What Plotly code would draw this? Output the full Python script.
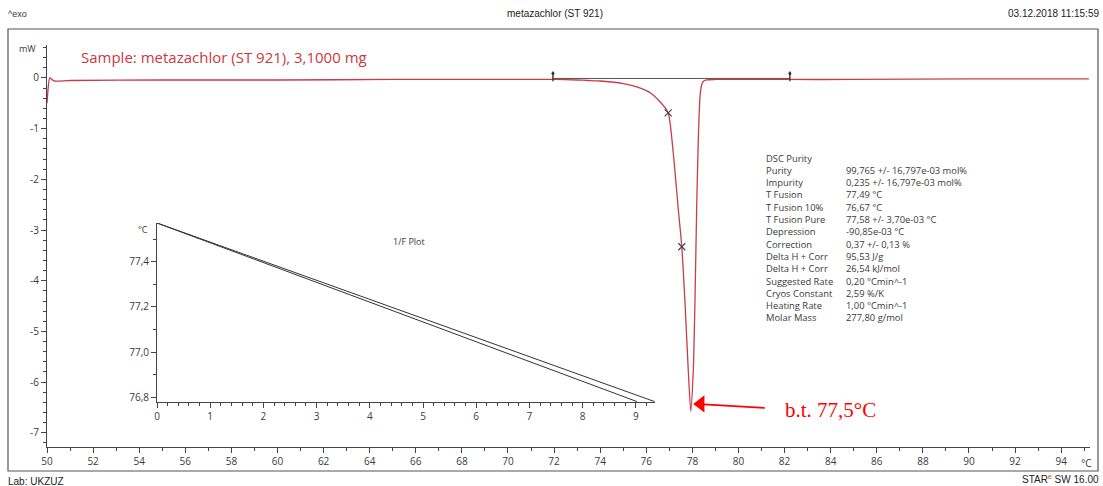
import plotly.graph_objects as go

# ---- Data ----
temp_c = [50.0, 50.05, 50.12, 50.3, 51, 55, 60, 65, 70, 72, 73, 73.5, 74, 74.5, 75, 75.4,
          75.8, 76.2, 76.6, 76.95, 77.17, 77.39, 77.54, 77.68, 77.82, 77.93, 78.04, 78.11,
          78.19, 78.26, 78.33, 78.40, 78.47, 78.62, 79, 82, 85, 90, 95.2]
heat_mw = [-0.50, -0.20, 0.00, -0.06, -0.05, -0.04, -0.04, -0.03, -0.03, -0.03, -0.04, -0.05,
           -0.06, -0.08, -0.11, -0.15, -0.21, -0.30, -0.47, -0.69, -1.48, -2.60, -3.33, -4.44,
           -5.76, -6.58, -5.76, -4.44, -2.47, -1.16, -0.37, -0.14, -0.07, -0.04, -0.03, -0.03,
           -0.03, -0.02, -0.02]
baseline_t = [71.95, 82.23]
baseline_mw = [-0.01, -0.01]
cross_t = [76.95, 77.54]
cross_mw = [-0.69, -3.33]

inv_f_fit = [0, 9.02]
temp_fit = [77.573, 76.78]
inv_f_data = [0, 2, 4, 6, 8, 9.35]
temp_data = [77.573, 77.404, 77.234, 77.065, 76.895, 76.78]

x_major = list(range(50, 96, 2))
y_major = [0, -1, -2, -3, -4, -5, -6, -7]
inset_x_major = list(range(0, 10))
inset_y_major = [76.8, 77.0, 77.2, 77.4]

purity_labels = ["DSC Purity", "Purity", "Impurity", "T Fusion", "T Fusion 10%", "T Fusion Pure",
                 "Depression", "Correction", "Delta H + Corr", "Delta H + Corr", "Suggested Rate",
                 "Cryos Constant", "Heating Rate", "Molar Mass"]
purity_values = ["", "99,765 +/- 16,797e-03 mol%", "0,235 +/- 16,797e-03 mol%", "77,49 °C",
                 "76,67 °C", "77,58 +/- 3,70e-03 °C", "-90,85e-03 °C", "0,37 +/- 0,13 %",
                 "95,53 J/g", "26,54 kJ/mol", "0,20 °Cmin^-1", "2,59 %/K", "1,00 °Cmin^-1",
                 "277,80 g/mol"]

# ---- layout helpers (pixel -> paper) ----
L, R, T, B = 47, 1090, 45, 447
def px(x):
    return (x - L) / (R - L)
def py(y):
    return (B - y) / (B - T)

FONT = "Open Sans"
TXT = "#3a3a3a"

fig = go.Figure()

fig.add_trace(go.Scatter(x=baseline_t, y=baseline_mw, mode="lines",
                         line=dict(color="#555555", width=1), hoverinfo="skip"))
fig.add_trace(go.Scatter(x=temp_c, y=heat_mw, mode="lines",
                         line=dict(color="rgb(200,60,75)", width=1.3, shape="spline", smoothing=0.6)))
fig.add_trace(go.Scatter(x=cross_t, y=cross_mw, mode="markers",
                         marker=dict(symbol="x-thin", size=7, line=dict(color="#444", width=1.2))))
fig.add_trace(go.Scatter(x=baseline_t, y=[0.03, 0.03], mode="markers",
                         marker=dict(symbol="line-ns", size=7, line=dict(color="#333", width=1.4))))
fig.add_trace(go.Scatter(x=baseline_t, y=[0.09, 0.09], mode="markers",
                         marker=dict(symbol="circle", size=3, color="#333")))

# inset 1/F plot
fig.add_trace(go.Scatter(x=inv_f_data, y=temp_data, mode="lines", xaxis="x2", yaxis="y2",
                         line=dict(color="#333", width=1)))
fig.add_trace(go.Scatter(x=inv_f_fit, y=temp_fit, mode="lines", xaxis="x2", yaxis="y2",
                         line=dict(color="#333", width=1)))

# red arrow pointing at the peak minimum
fig.add_trace(go.Scatter(x=[78.5, 81.15], y=[-6.44, -6.51], mode="lines",
                         line=dict(color="#ff0000", width=1.6), hoverinfo="skip"))
fig.add_trace(go.Scatter(x=[78.36], y=[-6.43], mode="markers",
                         marker=dict(symbol="triangle-left", size=15, color="#ff0000",
                                     line=dict(width=0)), hoverinfo="skip"))

axis_common = dict(showline=True, linecolor="#444", linewidth=1, showgrid=False, zeroline=False,
                   ticks="outside", tickcolor="#444", tickfont=dict(family=FONT, size=10, color=TXT))

fig.update_layout(
    width=1103, height=486,
    margin=dict(l=L, r=1103 - R, t=T, b=486 - B),
    paper_bgcolor="white", plot_bgcolor="white",
    showlegend=False,
    xaxis=dict(range=[50, 95.25], tickmode="array", tickvals=x_major,
               ticktext=[str(v) for v in x_major], ticklen=5,
               minor=dict(tickmode="linear", tick0=50, dtick=1, ticklen=3, ticks="outside",
                          tickcolor="#444"),
               **axis_common),
    yaxis=dict(range=[-7.28, 0.65], tickmode="array", tickvals=y_major,
               ticktext=[str(v) for v in y_major], ticklen=5,
               minor=dict(tickmode="linear", tick0=0, dtick=0.2, ticklen=3, ticks="outside",
                          tickcolor="#444"),
               **axis_common),
    xaxis2=dict(domain=[px(157), px(655)], anchor="y2", range=[0, 9.36], tickmode="array",
                tickvals=inset_x_major, ticktext=[str(v) for v in inset_x_major], ticklen=5,
                minor=dict(tickmode="linear", tick0=0, dtick=0.2, ticklen=3, ticks="outside",
                           tickcolor="#444"),
                **axis_common),
    yaxis2=dict(domain=[py(402), py(223)], anchor="x2", range=[76.778, 77.573], tickmode="array",
                tickvals=inset_y_major, ticktext=[f"{v:.1f}".replace(".", ",") for v in inset_y_major],
                ticklen=5,
                minor=dict(tickmode="linear", tick0=76.8, dtick=0.1, ticklen=3, ticks="outside",
                           tickcolor="#444"),
                **axis_common),
)

# frame around chart
fig.add_shape(type="rect", xref="paper", yref="paper", x0=px(8), x1=px(1098), y0=py(471), y1=py(29),
              line=dict(color="#555", width=1.2), layer="below")

def txt(x, y, s, size=10, color=TXT, xanchor="left", family=FONT):
    fig.add_annotation(xref="paper", yref="paper", x=px(x), y=py(y), text=s, showarrow=False,
                       xanchor=xanchor, yanchor="middle",
                       font=dict(family=family, size=size, color=color))

txt(6, 14, "^exo", size=9, family="Liberation Sans")
txt(555, 14, "metazachlor (ST 921)", size=10, xanchor="center", family="Liberation Sans", color="#222")
txt(1101, 14, "03.12.2018 11:15:59", size=10, xanchor="right", family="Liberation Sans", color="#222")
txt(38, 48, "mW", size=9, xanchor="right")
txt(79, 57, "Sample: metazachlor (ST 921), 3,1000 mg", size=15, color="rgb(205,55,65)")
txt(1094, 463, "°C", size=10, xanchor="right")
txt(150, 230, "°C", size=9, xanchor="right")
txt(409, 241, "1/F Plot", size=9, xanchor="center")
txt(6, 481, "Lab: UKZUZ", size=10, family="Liberation Sans", color="#222")
txt(1101, 479, "STAR<sup><span style='color:#d33'>e</span></sup> SW 16.00", size=10,
    xanchor="right", family="Liberation Sans", color="#222")

y0 = 158
for i, (lab, val) in enumerate(zip(purity_labels, purity_values)):
    yy = y0 + i * 12.3
    txt(764, yy, lab, size=9.4)
    if val:
        txt(844, yy, val, size=9.4)

txt(783, 410, "b.t. 77,5°C", size=21, color="#ff0000", family="Liberation Serif")

fig.write_html("out.html")
